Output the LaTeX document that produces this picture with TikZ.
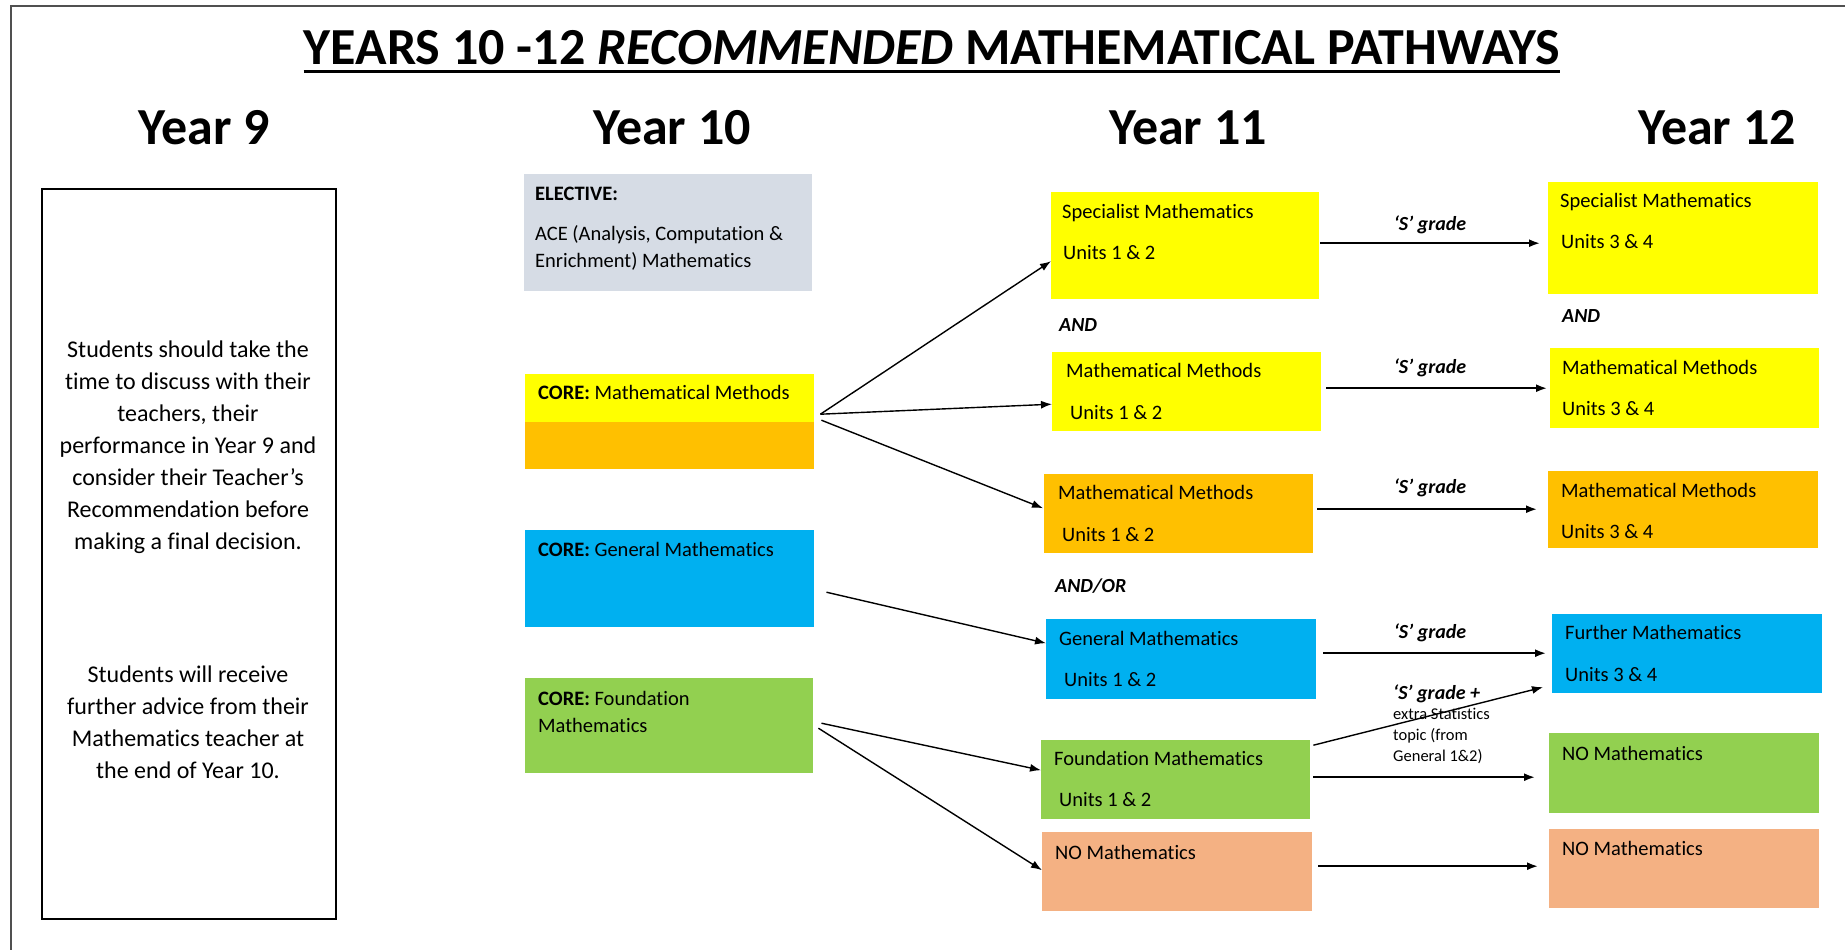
\documentclass[tikz,border=0pt]{standalone}
\usepackage{fontspec}
\setmainfont{Carlito}[Ligatures={TeX,NoCommon}]
\usetikzlibrary{arrows.meta}
\definecolor{cgray}{HTML}{D6DCE5}
\definecolor{cyel}{HTML}{FFFF00}
\definecolor{corange}{HTML}{FFC000}
\definecolor{cblue}{HTML}{00B0F0}
\definecolor{cgreen}{HTML}{92D050}
\definecolor{csalmon}{HTML}{F4B183}
\definecolor{frame}{HTML}{505050}
\tikzset{
  boxnode/.style={anchor=north west, inner sep=0pt, draw=none},
  txt/.style={anchor=base west, inner sep=0pt, font=\fontsize{20.5}{24}\selectfont},
  grade/.style={anchor=base, inner sep=0pt, font=\fontsize{20}{24}\selectfont\bfseries\itshape},
  conjlab/.style={anchor=base west, inner sep=0pt, font=\fontsize{20}{24}\selectfont\bfseries\itshape},
  yearlab/.style={anchor=base, inner sep=0pt, font=\fontsize{52}{58}\selectfont\bfseries},
  conn/.style={line width=1.4pt, -{Latex[length=11pt,width=8pt]}},
  harrow/.style={line width=1.8pt, -{Latex[length=11pt,width=8pt]}},
}
\begin{document}
\begin{tikzpicture}[x=1pt,y=-1pt]
\useasboundingbox (0,0) rectangle (1845,950);
\fill[white] (0,0) rectangle (1845,950);
% outer frame
\draw[frame, line width=2pt] (11,950) -- (11,6) -- (1845,6);

% title
\node[anchor=base, inner sep=0pt, font=\fontsize{52}{60}\selectfont\bfseries] (title) at (932,65) {YEARS 10 -12 \textit{RECOMMENDED} MATHEMATICAL PATHWAYS};
\draw[line width=3pt] ([yshift=-7pt]title.base west) -- ([yshift=-7pt]title.base east);

% year labels
\node[yearlab] (y9) at (204,144) {Year 9};
\node[yearlab] (y10) at (672,144) {Year 10};
\node[yearlab] (y11) at (1188,144) {Year 11};
\node[yearlab] (y12) at (1717,144) {Year 12};

% Year 9 box
\node[boxnode, draw=black, line width=1.5pt, minimum width=294pt, minimum height=730pt] (nine) at (41,188) {};
\node[align=center, inner sep=0pt, font=\fontsize{24}{32}\selectfont] (para1) at (188,447) {Students should take the\\time to discuss with their\\teachers, their\\performance in Year 9 and\\consider their Teacher’s\\Recommendation before\\making a final decision.};
\node[align=center, inner sep=0pt, font=\fontsize{24}{32}\selectfont] (para2) at (188,722) {Students will receive\\further advice from their\\Mathematics teacher at\\the end of Year 10.};

% Year 10 boxes
\node[boxnode, fill=cgray, minimum width=288pt, minimum height=117pt] (e10) at (524,174) {};
\node[txt] (e10a) at (535,200) {\textbf{ELECTIVE:}};
\node[txt] (e10b) at (535,240) {ACE (Analysis, Computation \&};
\node[txt] (e10c) at (535,267) {Enrichment) Mathematics};

\node[boxnode, fill=corange, minimum width=289pt, minimum height=95pt] (cm10) at (525,374) {};
\fill[cyel] (cm10.north west) rectangle (cm10.east);
\node[txt] (cm10t) at (538,399) {\textbf{CORE:} Mathematical Methods};

\node[boxnode, fill=cblue, minimum width=289pt, minimum height=97pt] (cg10) at (525,530) {};
\node[txt] (cg10t) at (538,556) {\textbf{CORE:} General Mathematics};

\node[boxnode, fill=cgreen, minimum width=288pt, minimum height=95pt] (cf10) at (525,678) {};
\node[txt] (cf10a) at (538,705) {\textbf{CORE:} Foundation};
\node[txt] (cf10b) at (538,732) {Mathematics};

% Year 11 boxes
\node[boxnode, fill=cyel, minimum width=268pt, minimum height=107pt] (s11) at (1051,192) {};
\node[txt] (s11a) at (1062,218) {Specialist Mathematics};
\node[txt] (s11b) at (1063,259) {Units 1 \& 2};
\node[conjlab] (and11) at (1059,331) {AND};

\node[boxnode, fill=cyel, minimum width=269pt, minimum height=79pt] (m11) at (1052,352) {};
\node[txt] (m11a) at (1066,377) {Mathematical Methods};
\node[txt] (m11b) at (1070,419) {Units 1 \& 2};

\node[boxnode, fill=corange, minimum width=269pt, minimum height=79pt] (o11) at (1044,474) {};
\node[txt] (o11a) at (1058,499) {Mathematical Methods};
\node[txt] (o11b) at (1062,541) {Units 1 \& 2};
\node[conjlab] (andor11) at (1055,592) {AND/OR};

\node[boxnode, fill=cblue, minimum width=270pt, minimum height=80pt] (g11) at (1046,619) {};
\node[txt] (g11a) at (1059,645) {General Mathematics};
\node[txt] (g11b) at (1064,686) {Units 1 \& 2};

\node[boxnode, fill=cgreen, minimum width=269pt, minimum height=79pt] (f11) at (1041,740) {};
\node[txt] (f11a) at (1054,765) {Foundation Mathematics};
\node[txt] (f11b) at (1059,806) {Units 1 \& 2};

\node[boxnode, fill=csalmon, minimum width=270pt, minimum height=79pt] (n11) at (1042,832) {};
\node[txt] (n11a) at (1055,859) {NO Mathematics};

% Year 12 boxes
\node[boxnode, fill=cyel, minimum width=270pt, minimum height=112pt] (s12) at (1548,182) {};
\node[txt] (s12a) at (1560,207) {Specialist Mathematics};
\node[txt] (s12b) at (1561,248) {Units 3 \& 4};
\node[conjlab] (and12) at (1562,322) {AND};

\node[boxnode, fill=cyel, minimum width=269pt, minimum height=80pt] (m12) at (1550,348) {};
\node[txt] (m12a) at (1562,374) {Mathematical Methods};
\node[txt] (m12b) at (1562,415) {Units 3 \& 4};

\node[boxnode, fill=corange, minimum width=270pt, minimum height=77pt] (o12) at (1548,471) {};
\node[txt] (o12a) at (1561,497) {Mathematical Methods};
\node[txt] (o12b) at (1561,538) {Units 3 \& 4};

\node[boxnode, fill=cblue, minimum width=270pt, minimum height=79pt] (g12) at (1552,614) {};
\node[txt] (g12a) at (1565,639) {Further Mathematics};
\node[txt] (g12b) at (1565,681) {Units 3 \& 4};

\node[boxnode, fill=cgreen, minimum width=270pt, minimum height=80pt] (f12) at (1549,733) {};
\node[txt] (f12a) at (1562,760) {NO Mathematics};

\node[boxnode, fill=csalmon, minimum width=270pt, minimum height=79pt] (n12) at (1549,829) {};
\node[txt] (n12a) at (1562,855) {NO Mathematics};

% connectors Year 10 -> Year 11
\draw[conn] ([xshift=6pt,yshift=7.5pt]cm10.east) -- ([yshift=-15.5pt]s11.west);
\draw[conn] ([xshift=6pt,yshift=7.5pt]cm10.east) -- ([yshift=-12.5pt]m11.west);
\draw[conn] ([xshift=7pt,yshift=1.5pt]cm10.east) -- ([xshift=-1pt,yshift=5.5pt]o11.west);
\draw[conn] ([xshift=12pt,yshift=-13.5pt]cg10.east) -- ([yshift=16pt]g11.west);
\draw[conn] ([xshift=8pt,yshift=2.5pt]cf10.east) -- ([yshift=9.5pt]f11.west);
\draw[conn] ([xshift=5pt,yshift=-2.5pt]cf10.east) -- ([yshift=1.5pt]n11.west);

% connectors Year 11 -> Year 12
\draw[harrow] ([xshift=1pt,yshift=2.5pt]s11.east) -- ([xshift=-8pt,yshift=-5pt]s12.west);
\draw[harrow] ([xshift=5pt,yshift=3.5pt]m11.east) -- ([xshift=-3pt]m12.west);
\draw[harrow] ([xshift=4pt,yshift=4.5pt]o11.east) -- ([xshift=-11pt,yshift=0.5pt]o12.west);
\draw[harrow] ([xshift=7pt,yshift=6pt]g11.east) -- ([xshift=-6pt,yshift=0.5pt]g12.west);
\draw[conn] ([xshift=3pt,yshift=34.5pt]f11.east) -- ([xshift=-9pt,yshift=-33.5pt]g12.west);
\draw[harrow] ([xshift=3pt,yshift=2.5pt]f11.east) -- ([xshift=-14pt,yshift=-4pt]f12.west);
\draw[harrow] ([xshift=6pt,yshift=5.5pt]n11.east) -- ([xshift=-11pt,yshift=2.5pt]n12.west);

% grade labels
\node[grade] (gr1) at (1430,230) {‘S’ grade};
\node[grade] (gr2) at (1430,373) {‘S’ grade};
\node[grade] (gr3) at (1430,493) {‘S’ grade};
\node[grade] (gr4) at (1430,638) {‘S’ grade};
\node[conjlab] (gr5) at (1393,699) {‘S’ grade +};
\node[anchor=north west, align=left, inner sep=0pt, font=\fontsize{16.5}{21}\selectfont] (gr5b) at (1393,708) {extra Statistics\\topic (from\\General 1\&2)};
\end{tikzpicture}
\end{document}
